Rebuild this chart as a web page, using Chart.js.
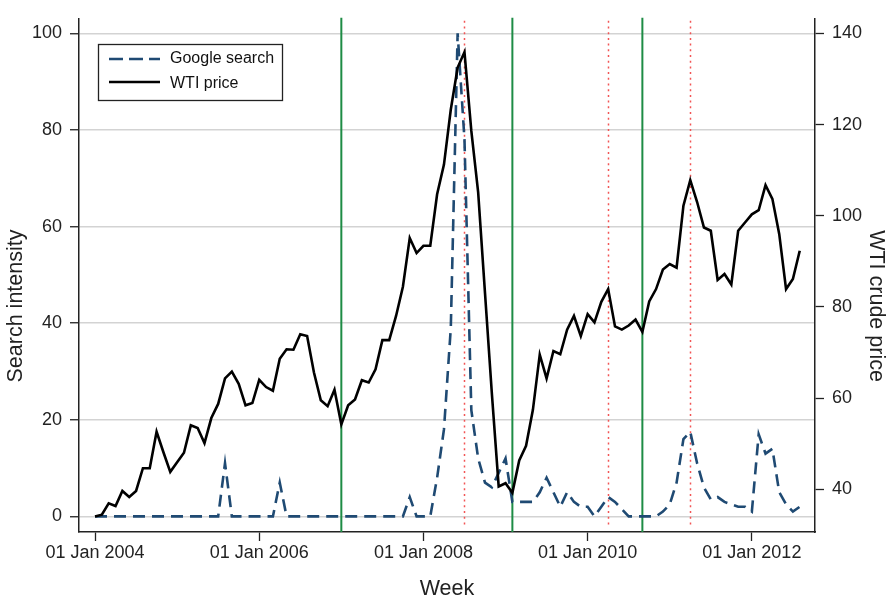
<!DOCTYPE html>
<html>
<head>
<meta charset="utf-8">
<script src="https://cdn.jsdelivr.net/npm/chart.js@4.4.1/dist/chart.umd.min.js"></script>
<style>
  html, body { margin: 0; padding: 0; background: #fff; }
  #wrap { width: 887px; height: 604px; }
</style>
</head>
<body>
<div id="wrap"><canvas id="chart" width="887" height="604"></canvas></div>
<script>
// monthly series, first value = Jan 2004, last = Aug 2012
const wtiPrice = [
  34.0, 34.4, 36.9, 36.3, 39.6, 38.3, 39.6, 44.6, 44.6, 52.6, 48.1, 43.8,
  45.9, 48.0, 54.0, 53.4, 50.1, 55.6, 58.7, 64.3, 65.8, 63.1, 58.4, 58.9,
  64.0, 62.4, 61.6, 68.6, 70.7, 70.6, 74.0, 73.6, 65.6, 59.5, 58.2, 61.8,
  54.2, 58.4, 59.7, 63.9, 63.4, 66.3, 72.7, 72.7, 78.0, 84.4, 95.1, 91.8,
  93.4, 93.4, 104.7, 111.2, 123.3, 132.5, 135.9, 118.6, 105.1, 83.0, 61.0, 40.6,
  41.3, 39.2, 46.3, 49.5, 57.4, 69.5, 64.3, 70.3, 69.6, 75.0, 78.0, 73.6,
  78.4, 76.6, 81.1, 83.9, 75.7, 75.0, 75.9, 77.2, 74.5, 81.2, 83.9, 88.2,
  89.4, 88.6, 102.2, 107.8, 103.0, 97.4, 96.7, 85.9, 87.2, 84.9, 96.7, 98.5,
  100.3, 101.2, 106.7, 103.7, 96.0, 83.9, 86.1, 92.3
];
const googleSearch = [
  0, 0, 0, 0, 0, 0, 0, 0, 0, 0, 0, 0,
  0, 0, 0, 0, 0, 0, 0, 11, 0, 0, 0, 0,
  0, 0, 0, 7, 0, 0, 0, 0, 0, 0, 0, 0,
  0, 0, 0, 0, 0, 0, 0, 0, 0, 0, 4, 0,
  0, 0, 8, 18, 39, 100, 78, 22, 12, 7, 6, 9,
  12, 3, 3, 3, 3, 5, 8, 5, 2, 5, 3, 2,
  2, 0, 2, 4, 3, 1.5, 0, 0, 0, 0, 0, 1,
  2.5, 7, 16, 17.5, 11, 6, 3.5, 4, 3, 2.5, 2, 2,
  1, 17, 13, 14, 5, 2.5, 1, 2
];

const xTickValues = [0, 24, 48, 72, 96];
const xTickLabels = ['01 Jan 2004', '01 Jan 2006', '01 Jan 2008', '01 Jan 2010', '01 Jan 2012'];
const searchTicks = [0, 20, 40, 60, 80, 100];
const priceTicks = [40, 60, 80, 100, 120, 140];

// event months (index from Jan 2004)
const greenMonths = [36, 61, 80];
const redMonths = [54, 75, 87];

Chart.defaults.font.family = "'Liberation Sans', Arial, Helvetica, sans-serif";
Chart.defaults.color = '#222';

const navy = '#1f4a73';
const titleFont = "21.5px 'Liberation Sans', Arial, sans-serif";

const extras = {
  id: 'extras',
  beforeDatasetsDraw(chart) {
    const { ctx, chartArea, scales: { x } } = chart;
    ctx.save();
    ctx.strokeStyle = '#f25555';
    ctx.lineWidth = 1.5;
    ctx.setLineDash([2, 3.7]);
    redMonths.forEach(m => {
      const px = Math.round(x.getPixelForValue(m)) + 0.5;
      ctx.beginPath();
      ctx.moveTo(px, chartArea.top + 2);
      ctx.lineTo(px, chartArea.bottom - 5);
      ctx.stroke();
    });
    ctx.setLineDash([]);
    ctx.strokeStyle = '#1e8c45';
    ctx.lineWidth = 2;
    greenMonths.forEach(m => {
      const px = x.getPixelForValue(m);
      ctx.beginPath();
      ctx.moveTo(px, chartArea.top - 1);
      ctx.lineTo(px, chartArea.bottom);
      ctx.stroke();
    });
    ctx.restore();
  },
  afterDraw(chart) {
    const ctx = chart.ctx;
    ctx.save();
    // axis titles
    ctx.fillStyle = '#222';
    ctx.font = titleFont;
    ctx.textAlign = 'center';
    ctx.textBaseline = 'middle';
    ctx.save();
    ctx.translate(16, 306);
    ctx.rotate(-Math.PI / 2);
    ctx.fillText('Search intensity', 0, 0);
    ctx.restore();
    ctx.save();
    ctx.translate(876, 306);
    ctx.rotate(Math.PI / 2);
    ctx.fillText('WTI crude price', 0, 0);
    ctx.restore();

    // legend
    ctx.textAlign = 'left';
    ctx.fillStyle = '#fff';
    ctx.fillRect(98.5, 44.5, 184, 56);
    ctx.strokeStyle = '#222';
    ctx.lineWidth = 1.3;
    ctx.strokeRect(98.5, 44.5, 184, 56);

    ctx.lineWidth = 2.6;
    ctx.strokeStyle = navy;
    ctx.setLineDash([14, 6]);
    ctx.beginPath();
    ctx.moveTo(109, 59);
    ctx.lineTo(160, 59);
    ctx.stroke();
    ctx.setLineDash([]);
    ctx.strokeStyle = '#000';
    ctx.beginPath();
    ctx.moveTo(109, 82);
    ctx.lineTo(160, 82);
    ctx.stroke();

    ctx.fillStyle = '#111';
    ctx.font = "16px 'Liberation Sans', Arial, sans-serif";
    ctx.fillText('Google search', 170, 59);
    ctx.fillText('WTI price', 170, 84);
    ctx.restore();
  }
};

new Chart(document.getElementById('chart'), {
  type: 'line',
  data: {
    datasets: [
      {
        label: 'WTI price',
        data: wtiPrice.map((v, i) => ({ x: i, y: v })),
        yAxisID: 'y1',
        borderColor: '#000',
        borderWidth: 2.6,
        pointRadius: 0,
        tension: 0,
        fill: false
      },
      {
        label: 'Google search',
        data: googleSearch.map((v, i) => ({ x: i, y: v })),
        yAxisID: 'y',
        borderColor: navy,
        borderWidth: 2.6,
        borderDash: [12, 7],
        pointRadius: 0,
        tension: 0,
        fill: false
      }
    ]
  },
  options: {
    responsive: false,
    animation: false,
    devicePixelRatio: 1,
    layout: { padding: { top: 5, left: 0, right: 0, bottom: 0 } },
    plugins: { legend: { display: false }, tooltip: { enabled: false } },
    scales: {
      x: {
        type: 'linear',
        min: -2.34,
        max: 105.23,
        afterBuildTicks: s => { s.ticks = xTickValues.map(v => ({ value: v })); },
        afterFit: s => { s.height = 72; },
        ticks: {
          autoSkip: false,
          maxRotation: 0,
          padding: 1,
          font: { size: 18 },
          callback: v => xTickLabels[xTickValues.indexOf(v)]
        },
        grid: { drawOnChartArea: false, tickColor: '#222', tickLength: 9, tickWidth: 1.3 },
        border: { color: '#222', width: 1.5 },
        title: { display: true, text: 'Week', font: { size: 21.5 }, padding: { bottom: 2 } }
      },
      y: {
        position: 'left',
        min: -3.23,
        max: 103.0,
        afterBuildTicks: s => { s.ticks = searchTicks.map(v => ({ value: v })); },
        afterFit: s => { s.width = 79; },
        ticks: { padding: 8, font: { size: 18 } },
        grid: { color: '#d3d3d3', lineWidth: 1.5, tickColor: '#222', tickLength: 9, tickWidth: 1.3 },
        border: { color: '#222', width: 1.5 },
        title: { display: false }
      },
      y1: {
        position: 'right',
        min: 30.6,
        max: 143.2,
        afterBuildTicks: s => { s.ticks = priceTicks.map(v => ({ value: v })); },
        afterFit: s => { s.width = 72; },
        ticks: { padding: 8, font: { size: 18 } },
        grid: { drawOnChartArea: false, tickColor: '#222', tickLength: 9, tickWidth: 1.3 },
        border: { color: '#222', width: 1.5 },
        title: { display: false }
      }
    }
  },
  plugins: [extras]
});
</script>
</body>
</html>
